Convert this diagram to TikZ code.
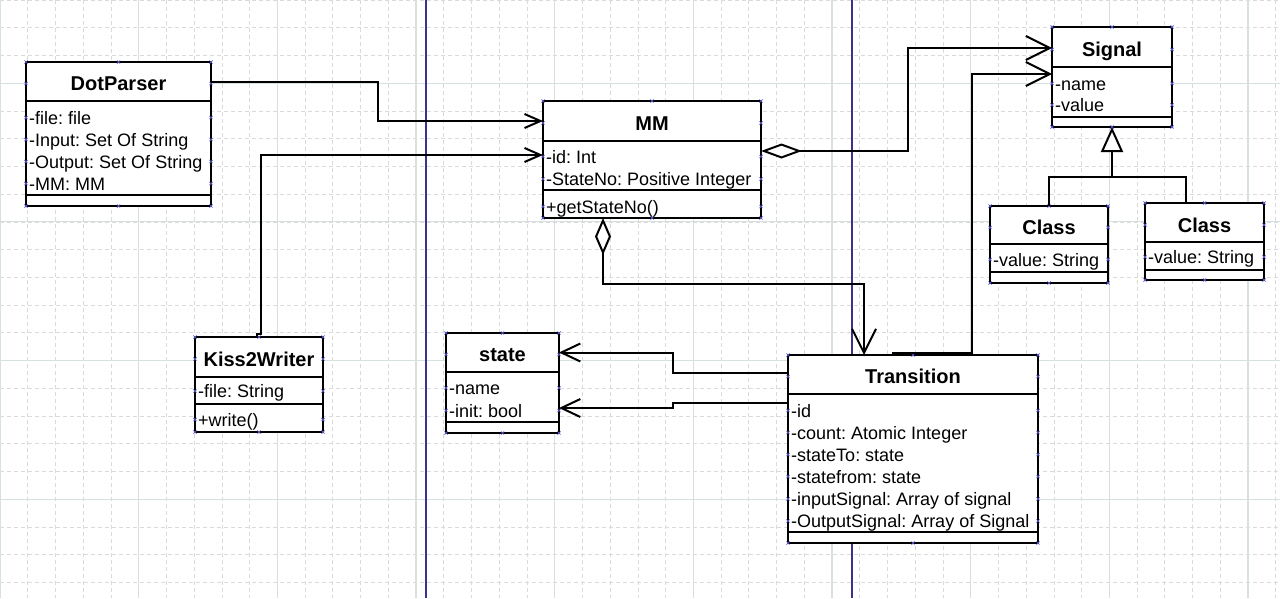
\documentclass[tikz,border=0pt]{standalone}
\usepackage{fontspec}
\setmainfont{Liberation Sans}
\usetikzlibrary{arrows.meta}
\frenchspacing
\definecolor{gridminor}{RGB}{218,218,218}
\definecolor{gridmajor}{RGB}{214,224,224}
\definecolor{pageblue}{RGB}{60,50,140}
\definecolor{hdlblue}{RGB}{90,90,210}
\tikzset{
  boxframe/.style={rectangle, draw=black, fill=white, line width=2pt, inner sep=0pt, outer sep=0pt},
  sepline/.style={line width=2pt},
  titletext/.style={font=\fontsize{20}{24}\selectfont\bfseries, inner sep=0pt, text height=14.3pt, text depth=0pt},
  rowtext/.style={font=\fontsize{18}{22}\selectfont, inner sep=0pt, text height=13pt, text depth=0pt, anchor=west},
  conn/.style={line width=2pt},
  hdl/.style={draw=hdlblue, line width=0.7pt},
  minorgrid/.style={draw=gridminor, line width=0.7pt, dash pattern=on 4pt off 3pt},
  majorgrid/.style={draw=gridmajor, line width=1.1pt},
  pageline/.style={draw=pageblue, line width=1.5pt},
  tipS/.tip={Straight Barb[length=16pt,width=14pt]},
  tipM/.tip={Straight Barb[length=19pt,width=18pt]},
  tipL/.tip={Straight Barb[length=24pt,width=24pt]},
  tipD/.tip={Diamond[open,fill=white,length=41pt,width=15pt]},
  tipDv/.tip={Diamond[open,fill=white,length=37pt,width=16pt]},
  tipT/.tip={Triangle[open,fill=white,length=25pt,width=22pt]},
}
\newcommand\umlhdl[1]{\draw[hdl] #1 +(-1.6,-1.6) -- +(1.6,1.6) +(-1.6,1.6) -- +(1.6,-1.6);}
% name, x1, y1, x2, y2, sep1, sep2, title y, title
\newcommand\umlbox[9]{%
  \node[boxframe, anchor=north west, minimum width={#4-#2}, minimum height={#5-#3}] (#1) at (#2,#3) {};
  \draw[sepline] (#2,#6) -- (#4,#6);
  \draw[sepline] (#2,#7) -- (#4,#7);
  \node[titletext] (#1-t) at ({(#2+#4)/2},#8) {#9};
  \foreach \a in {north west,north,north east,south west,south,south east} {\umlhdl{(#1.\a)}}
  \umlhdl{(#2,#8)}\umlhdl{(#4,#8)}%
}
% name, x1, x2, y, text
\newcommand\umlrow[5]{%
  \node[rowtext] (#1) at ({#2+3},#4) {#5};
  \umlhdl{(#2,#4)}\umlhdl{(#3,#4)}%
}
\begin{document}
\begin{tikzpicture}[x=1pt,y=-1pt]
\useasboundingbox (0,0) rectangle (1280,598);
\fill[white] (0,0) rectangle (1280,598);
% grid
\foreach \i in {0,...,46} {\draw[minorgrid] ({\i*27.733},0) -- ({\i*27.733},598);}
\foreach \j in {0,...,21} {\draw[minorgrid] (0,{\j*27.733}) -- (1280,{\j*27.733});}
\foreach \i in {0,5,...,45} {\draw[majorgrid] ({\i*27.733},0) -- ({\i*27.733},598);}
\foreach \j in {3,8,13,18} {\draw[majorgrid] (0,{\j*27.733}) -- (1280,{\j*27.733});}
% page borders
\draw[pageline] (426,0) -- (426,598);
\draw[pageline] (852,0) -- (852,598);

% classes
\umlbox{dot}{26}{62}{211}{206}{101}{195}{83.5}{DotParser}
\umlrow{dot-r1}{26}{211}{117.5}{-file: file}
\umlrow{dot-r2}{26}{211}{139.5}{-Input: Set Of String}
\umlrow{dot-r3}{26}{211}{161.5}{-Output: Set Of String}
\umlrow{dot-r4}{26}{211}{183.5}{-MM: MM}

\umlbox{mm}{543}{101}{761}{218}{141}{190}{123}{MM}
\umlrow{mm-r1}{543}{761}{156.5}{-id: Int}
\umlrow{mm-r2}{543}{761}{179}{-StateNo: Positive Integer}
\umlrow{mm-o1}{543}{761}{206.5}{+getStateNo()}

\umlbox{sig}{1052}{27}{1172}{127}{67}{117}{49.5}{Signal}
\umlrow{sig-r1}{1052}{1172}{83.5}{-name}
\umlrow{sig-r2}{1052}{1172}{105}{-value}

\umlbox{cls1}{990}{206}{1108}{283}{244}{272}{227.5}{Class}
\umlrow{cls1-r1}{990}{1108}{259.5}{-value: String}

\umlbox{cls2}{1145}{203}{1264}{280}{241.5}{270}{225}{Class}
\umlrow{cls2-r1}{1145}{1264}{257}{-value: String}

\umlbox{kiss}{195}{337}{323}{432}{377}{404}{359}{Kiss2Writer}
\umlrow{kiss-r1}{195}{323}{391}{-file: String}
\umlrow{kiss-o1}{195}{323}{419.5}{+write()}

\umlbox{state}{446}{333}{559}{433}{372}{422}{354.5}{state}
\umlrow{state-r1}{446}{559}{388}{-name}
\umlrow{state-r2}{446}{559}{410.5}{-init: bool}

\umlbox{trans}{788}{355}{1038}{543}{394}{532}{376.5}{Transition}
\umlrow{trans-r1}{788}{1038}{410.5}{-id}
\umlrow{trans-r2}{788}{1038}{432.5}{-count: Atomic Integer}
\umlrow{trans-r3}{788}{1038}{454.5}{-stateTo: state}
\umlrow{trans-r4}{788}{1038}{476.5}{-statefrom: state}
\umlrow{trans-r5}{788}{1038}{499}{-inputSignal: Array of signal}
\umlrow{trans-r6}{788}{1038}{521}{-OutputSignal: Array of Signal}

% connectors
\draw[conn, -tipS] ([yshift=-19.5]dot.north east) -- ++(167,0) |- ([yshift=-20]mm.north west);
\draw[conn, -tipS] ([xshift=62]kiss.north west) -- ++(0,-3) -- ++(4,0) |- ([yshift=-54]mm.north west);
\draw[conn, tipD-tipL] ([yshift=-50]mm.north east) -- ++(147,0) |- ([yshift=-21]sig.north west);
\draw[conn, tipDv-tipL] ([xshift=60]mm.south west) -- ++(0,66) -| ([xshift=76]trans.north west);
\draw[conn, -tipL] ([xshift=104,yshift=2]trans.north west) -- ([xshift=184,yshift=2]trans.north west) |- ([yshift=-47]sig.north west);
\draw[conn, -tipM] ([yshift=-17.5]trans.north west) -- ++(-115,0) |- ([yshift=-19.5]state.north east);
\draw[conn, -tipM] ([yshift=-48]trans.north west) -- ++(-115,0) |- ([yshift=-75]state.north east);
\draw[conn] ([xshift=59]cls1.north west) -- ++(0,-29) -| ([xshift=41]cls2.north west);
\draw[conn, -tipT] ([yshift=-50]sig.south) -- (sig.south);
\end{tikzpicture}
\end{document}
